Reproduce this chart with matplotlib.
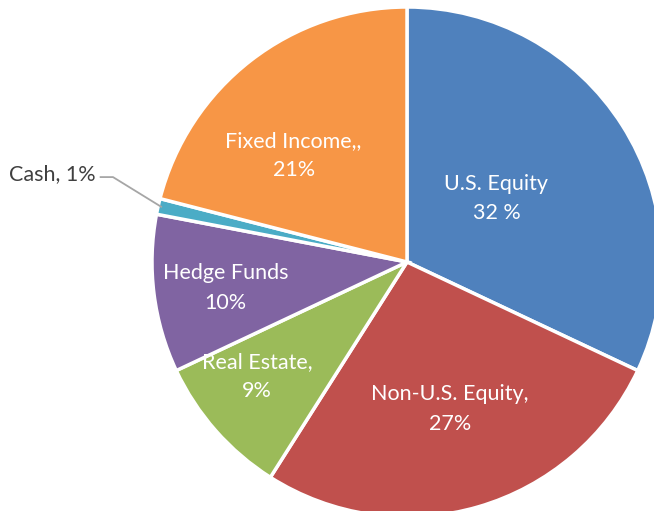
import numpy as np
import matplotlib.pyplot as plt

# datos del grafico
etiquetas = ["U.S. Equity\n32 %", "Non-U.S. Equity,\n27%", "Real Estate,\n9%",
             "Hedge Funds\n10%", "Cash, 1%", "Fixed Income,,\n21%"]
valores = [32, 27, 9, 10, 1, 21]
colores = ["#4F81BD", "#C0504D", "#9BBB59", "#8064A2", "#4BACC6", "#F79646"]

# distancia y ajuste de angulo de cada etiqueta
dist_etq = [0.43, 0.60, 0.74, 0.72, None, 0.61]
ajuste_ang = [3, 0, -4, 1, 0, 9]

plt.rcParams['font.family'] = ['Lato', 'DejaVu Sans']

fig = plt.figure(figsize=(6.54, 5.11), dpi=100)
ax = fig.add_axes([0, 0, 1, 1])

cx, cy, r = 407, 262, 255
ancho, alto = 654, 511

wedges, _ = ax.pie(valores, colors=colores, startangle=90, counterclock=False,
                   radius=1, wedgeprops=dict(edgecolor="white", linewidth=2.5))

ax.set_xlim(-cx / r, (ancho - cx) / r)
ax.set_ylim(-(alto - cy) / r, cy / r)
ax.set_aspect("auto")
ax.axis("off")

for w, txt, d, aj in zip(wedges, etiquetas, dist_etq, ajuste_ang):
    ang = np.deg2rad((w.theta1 + w.theta2) / 2 + aj)
    if d is None:
        # etiqueta externa con linea guia
        x0, y0 = 0.985 * np.cos(ang), 0.985 * np.sin(ang)
        ax.plot([-1.205, -1.153, x0], [0.333, 0.333, y0], color="#A6A6A6", lw=1.3,
                solid_capstyle="butt")
        ax.text(-1.222, 0.345, txt, ha="right", va="center", fontsize=15.5,
                color="#404040")
    else:
        ax.text(d * np.cos(ang), d * np.sin(ang), txt, ha="center", va="center",
                fontsize=15.5, color="white", linespacing=1.6)

fig.savefig("out.png", dpi=100)
